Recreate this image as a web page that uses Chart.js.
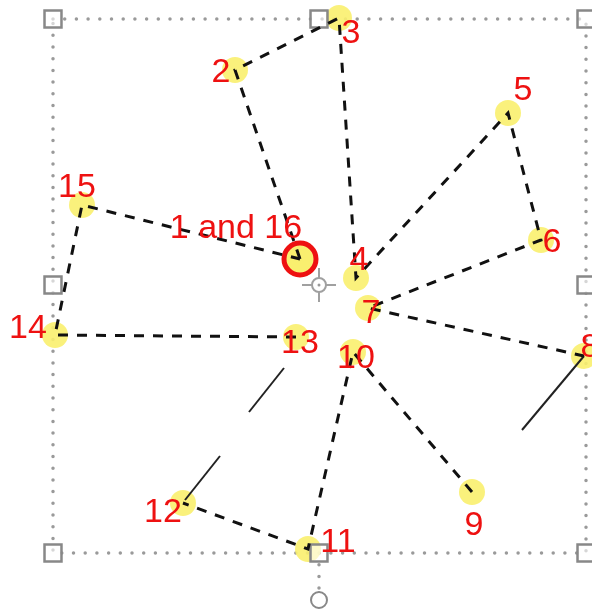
<!DOCTYPE html>
<html>
<head>
<meta charset="utf-8">
<script src="https://cdn.jsdelivr.net/npm/chart.js@4.4.0/dist/chart.umd.min.js"></script>
<style>
  html, body { margin: 0; padding: 0; background: #fff; }
  #wrap { width: 592px; height: 611px; }
</style>
</head>
<body>
<div id="wrap"><canvas id="motion-path"></canvas></div>
<script>
// path points 1..15 (point 16 is the same as point 1)
var pathX = [300, 235, 339, 356, 508, 541, 368, 584, 472, 353, 308, 183, 296, 55, 82];
var pathY = [259, 70, 18, 278, 113, 240, 308, 356, 492, 352, 549, 503, 337, 335, 205];

// which points are joined by the dashed path
var runA = [0, 1, 2, 3, 4, 5, 6, 7];
var runB = [8, 9, 10, 11];
var runC = [12, 13, 14, 0];

// solid control-handle lines
var handleX = [[584, 522], [185, 220], [249, 284]];
var handleY = [[356, 430], [500, 456], [412, 368]];

// selection frame and its handles
var frameX = [53, 586, 586, 53, 53];
var frameY = [19, 19, 553, 553, 19];
var gripX = [53, 319, 586, 53, 586, 53, 319, 586];
var gripY = [19, 19, 19, 285, 285, 553, 553, 553];
var centerX = [319], centerY = [285];
var rotateX = [319], rotateY = [600];

// labels
var labelText = ['1 and 16', '2', '3', '4', '5', '6', '7', '8', '9', '10', '11', '12', '13', '14', '15'];
var labelX = [236, 221, 351, 359, 523, 552, 371, 590, 474, 356, 338, 163, 300, 28, 77];
var labelY = [238, 82, 43, 270, 100, 252, 323, 357, 535, 368, 552, 522, 353, 338, 197];

function pts(xs, ys) {
  return xs.map(function (x, i) { return { x: x, y: ys[i] }; });
}
function run(idx) {
  return idx.map(function (i) { return { x: pathX[i], y: pathY[i] }; });
}

var dashed = {
  type: 'line', showLine: true, pointRadius: 0, borderColor: '#111',
  borderWidth: 3, borderDash: [10, 9], fill: false, order: 1, clip: false
};

var datasets = [
  Object.assign({ data: run(runA) }, dashed),
  Object.assign({ data: run(runB) }, dashed),
  Object.assign({ data: run(runC) }, dashed)
];

handleX.forEach(function (hx, i) {
  datasets.push({
    type: 'line', data: pts(hx, handleY[i]), showLine: true, pointRadius: 0,
    borderColor: '#222', borderWidth: 2, order: 1
  });
});

datasets.push({
  type: 'scatter', data: pts(pathX, pathY), pointRadius: 13,
  backgroundColor: 'rgba(250,240,110,0.9)', borderWidth: 0, order: 5, clip: false
});
datasets.push({
  type: 'scatter', data: pts([pathX[0]], [pathY[0]]), pointRadius: 16,
  backgroundColor: 'rgba(250,240,110,0.9)', borderColor: '#ee1111', borderWidth: 5, order: 4
});
datasets.push({
  type: 'line', data: pts(frameX, frameY), showLine: true, pointRadius: 0,
  borderColor: '#9a9a9a', borderWidth: 3.5, borderDash: [0, 11.7], borderCapStyle: 'round', order: 8, clip: false
});
datasets.push({
  type: 'line', data: pts([319, 319], [553, 592]), showLine: true, pointRadius: 0,
  borderColor: '#9a9a9a', borderWidth: 3.5, borderDash: [0, 11.7], borderCapStyle: 'round', order: 8
});
datasets.push({
  type: 'scatter', data: pts(gripX, gripY), pointStyle: 'rect', pointRadius: 12,
  backgroundColor: 'rgba(255,255,255,0.6)', borderColor: '#888', borderWidth: 2.5, order: 3, clip: false
});
datasets.push({
  type: 'scatter', data: pts(rotateX, rotateY), pointRadius: 8,
  backgroundColor: '#fff', borderColor: '#888', borderWidth: 2, order: 3
});
datasets.push({
  type: 'scatter', data: pts(centerX, centerY), pointStyle: 'cross', pointRadius: 17,
  borderColor: '#a0a0a0', borderWidth: 2, order: 3
});
datasets.push({
  type: 'scatter', data: pts(centerX, centerY), pointRadius: 7,
  backgroundColor: '#fff', borderColor: '#a0a0a0', borderWidth: 2, order: 2
});
datasets.push({
  type: 'scatter', data: pts(centerX, centerY), pointRadius: 1.5,
  backgroundColor: '#999', borderWidth: 0, order: 1
});

var labelPlugin = {
  id: 'pathLabels',
  afterDatasetsDraw: function (chart) {
    var ctx = chart.ctx;
    var xs = chart.scales.x, ys = chart.scales.y;
    ctx.save();
    ctx.font = '34px "Liberation Sans", Arial, sans-serif';
    ctx.fillStyle = '#ee1111';
    ctx.textAlign = 'center';
    ctx.textBaseline = 'alphabetic';
    labelText.forEach(function (t, i) {
      ctx.fillText(t, xs.getPixelForValue(labelX[i]), ys.getPixelForValue(labelY[i]));
    });
    ctx.restore();
  }
};

var ctx = document.getElementById('motion-path').getContext('2d');
var chart = new Chart(ctx, {
  type: 'scatter',
  data: { datasets: datasets },
  options: {
    responsive: true,
    maintainAspectRatio: false,
    animation: false,
    layout: { padding: 0, autoPadding: false },
    plugins: { legend: { display: false }, tooltip: { enabled: false } },
    scales: {
      x: { type: 'linear', min: 0, max: 592, display: false },
      y: { type: 'linear', min: 0, max: 611, reverse: true, display: false }
    }
  },
  plugins: [labelPlugin]
});
</script>
</body>
</html>
